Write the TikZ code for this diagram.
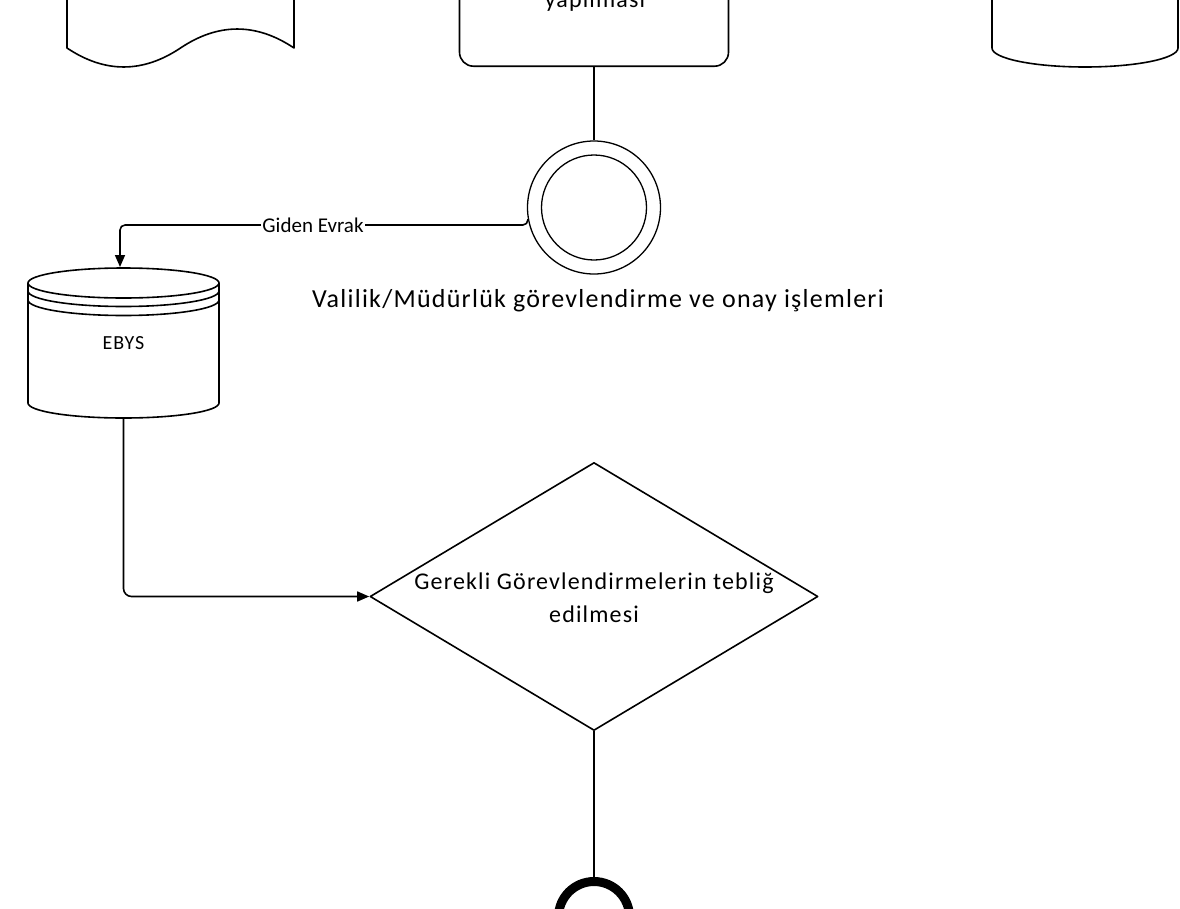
\documentclass[tikz,border=0pt]{standalone}
\usepackage{fontspec}
\setmainfont{Carlito}
\newfontfamily\spaced[LetterSpace=4.8]{Carlito}
\usetikzlibrary{arrows.meta,shapes.geometric}
\begin{document}
\begin{tikzpicture}[x=1pt,y=-1pt,line join=round,
  shp/.style={draw=black,line width=1.6pt},
  thin shp/.style={draw=black,line width=1.3pt},
  conn/.style={draw=black,line width=1.6pt},
  arr/.style={-{Triangle[length=12pt,width=10pt]}},
  lbl/.style={inner sep=0pt,text=black}]
\useasboundingbox (0,0) rectangle (1180,908);
\fill[white] (0,0) rectangle (1180,908);

% document shape (top left)
\draw[shp] (67,-10) -- (67,48) .. controls (104.8,73.3) and (142.7,73.3) .. (180.5,48)
  .. controls (218.3,22.7) and (256.2,22.7) .. (294,48) -- (294,-10);

% task (top middle)
\node[shp,rounded corners=14pt,minimum width=269pt,minimum height=140pt,inner sep=0,anchor=south] (task) at (594,67) {};
\node[lbl,font=\spaced\fontsize{24}{29}\selectfont,anchor=base] (tasktext) at (595,7) {yapılması};

% cylinder (top right)
\draw[shp] (992,-10) -- (992,48) arc[start angle=180,end angle=360,x radius=93pt,y radius=19pt] -- (1178,-10);

% intermediate event
\node[circle,thin shp,minimum size=133pt,inner sep=0] (ev) at (594,207.5) {};
\node[circle,thin shp,minimum size=105pt,inner sep=0] (evin) at (594,207.5) {};
\node[lbl,font=\spaced\fontsize{26}{31}\selectfont,anchor=base] (evlabel) at (598,307) {Valilik/Müdürlük görevlendirme ve onay işlemleri};

\draw[conn] (task.south) -- (ev.north);

% EBYS data store
\draw[shp] (28,283) -- (28,403) arc[start angle=180,end angle=360,x radius=95.5pt,y radius=15pt] -- (219,283);
\draw[shp] (123.5,283) ellipse[x radius=95.5pt,y radius=15pt];
\draw[shp] (28,291) arc[start angle=180,end angle=360,x radius=95.5pt,y radius=15.5pt];
\draw[shp] (28,300) arc[start angle=180,end angle=360,x radius=95.5pt,y radius=15.5pt];
\node[lbl,font=\spaced\fontsize{20}{24}\selectfont] (ebys) at (123.5,343) {EBYS};
\coordinate (ebystop) at (120,267);
\coordinate (ebysbot) at (123.5,418);

% Giden Evrak connector
\draw[conn,arr] (ev.190) [rounded corners=5pt] |- (120,225) [rounded corners=8pt] -- (ebystop);
\node[lbl,fill=white,inner xsep=1pt,font=\fontsize{21}{25}\selectfont] (giden) at (313,225) {Giden Evrak};

% decision
\node[diamond,shp,minimum width=448pt,minimum height=268pt,inner sep=0] (dia) at (594,596.5) {};
\node[lbl,font=\spaced\fontsize{24}{33}\selectfont,anchor=base] (diatext) at (594,589)
  {\vtop{\halign{\hfil#\hfil\cr Gerekli Görevlendirmelerin tebliğ\cr edilmesi\cr}}};

\draw[conn,arr,rounded corners=8pt] (ebysbot) |- (dia.west);

% end event
\node[circle,draw=black,line width=9pt,minimum size=71pt,inner sep=0] (end) at (594,917) {};
\draw[conn] (dia.south) -- (end.north);
\end{tikzpicture}
\end{document}
